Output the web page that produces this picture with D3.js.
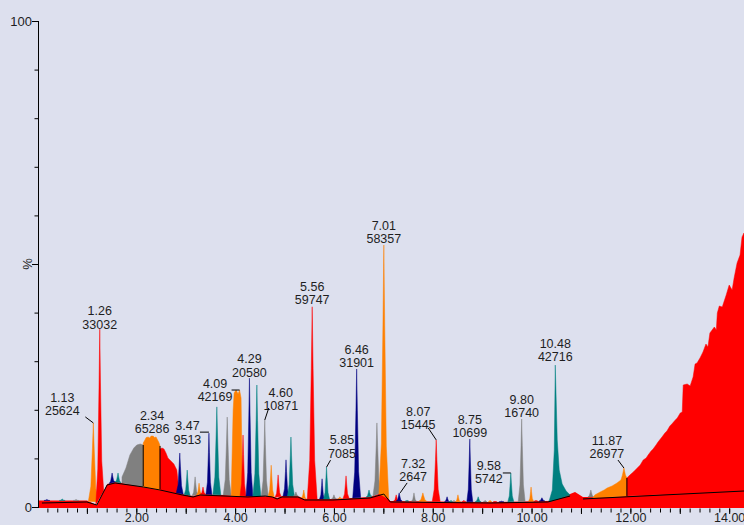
<!DOCTYPE html>
<html><head><meta charset="utf-8">
<script src="https://cdn.jsdelivr.net/npm/d3@7/dist/d3.min.js"></script>
<style>
html,body{margin:0;padding:0;background:#dde0ee;}
svg{display:block;}
text{font-family:"Liberation Sans",Arial,sans-serif;fill:#1e1e1e;}
</style>
</head><body>
<svg id="chart" width="744" height="525"></svg>
<script>
// ---------------- DATA (minutes, % of full scale) ----------------
const xTickLabels = ["2.00","4.00","6.00","8.00","10.00","12.00","14.00"];
const xTickValues = [2,4,6,8,10,12,14];
const yLabelValues = [0, 100];

// unintegrated signal (red fill top)
const backgroundTimes  = [0.03,1.00,1.20,1.41,1.57,2.14,2.48,2.93,3.15,3.29,4.26,4.75,4.85,4.95,5.27,5.41,5.98,6.73,7.01,7.14,9.16,10.33,10.57,10.78,10.88,11.04,11.39,11.91,14.30];
const backgroundLevels = [1.34,1.34,0.41,4.73,5.14,4.32,3.70,2.67,2.26,2.67,2.26,2.26,1.85,2.26,2.26,1.65,1.65,2.06,3.09,1.23,1.03,1.23,1.85,2.67,3.09,2.06,2.06,2.26,3.50];

// integration baseline (black line), NaN = gap
const baselineTimes  = [0.09,1.00,1.20,1.41,1.57,2.14,2.48,2.93,3.15,3.29,4.26,4.61,4.75,4.85,4.95,5.27,5.41,5.98,6.73,7.01,7.14,9.16,10.33,10.78,10.90,11.04,14.30];
const baselineLevels = [0.82,1.03,0.41,4.53,4.94,4.12,3.50,2.47,2.06,2.47,2.06,2.26,2.06,1.65,2.06,2.06,1.44,1.44,1.85,2.67,1.03,0.82,1.03,2.26,NaN,1.65,3.29];

// integrated peaks, in elution order
const peakTimes = [0.19,0.50,0.78,1.13,1.26,1.51,1.63,2.08,2.34,2.52,2.88,3.03,3.19,3.27,3.35,3.47,3.63,3.84,4.09,4.16,4.29,4.44,4.60,4.73,4.87,5.03,5.13,5.23,5.39,5.56,5.76,5.85,6.00,6.12,6.245,6.46,6.71,6.87,7.01,7.26,7.32,7.48,7.62,7.80,8.07,8.29,8.37,8.43,8.51,8.63,8.75,8.92,9.06,9.16,9.26,9.39,9.58,9.80,9.99,10.09,10.21,10.48,11.20,11.87,14.30];
const peakHeights = [1.54,1.65,1.54,17.3,36.6,7.0,7.0,12.96,14.6,12.14,11.1,7.6,6.2,4.9,4.1,15.2,20.6,18.5,24.07,14.8,26.5,25.1,17.9,8.6,6.6,9.7,14.4,3.1,3.5,41.2,5.8,8.2,2.5,2.1,6.4,28.4,3.5,17.3,53.9,2.5,2.9,1.4,2.9,2.9,13.8,2.1,1.4,1.4,2.5,1.4,14.0,2.1,1.4,1.4,1.2,1.2,7.0,18.1,4.1,1.4,1.9,29.2,3.5,8.02,56.4];
const peakHalfWidths = [0.06,0.06,0.06,0.10,0.08,0.06,0.06,null,null,null,0.07,0.06,0.06,0.05,0.05,0.06,0.08,0.08,null,0.06,0.07,0.08,0.07,0.06,0.06,0.06,0.07,0.05,0.05,0.10,0.05,0.06,0.05,0.04,0.06,0.08,0.06,0.08,0.10,0.05,0.06,0.04,0.05,0.08,0.08,0.05,0.04,0.04,0.05,0.04,0.06,0.06,0.04,0.04,0.04,0.05,0.06,0.07,0.05,0.04,0.06,null,0.06,null,null];

// traced outlines of broad peaks [min, %]
const grayHump = [[1.71,4.94],[1.71,6.17],[1.79,8.02],[1.87,10.70],[1.95,12.14],[2.01,12.76],[2.08,12.96],[2.14,12.76],[2.14,4.12]];
const orange234 = [[2.14,4.12],[2.14,13.17],[2.18,13.9],[2.20,14.3],[2.24,14.4],[2.27,14.2],[2.30,14.6],[2.34,14.6],[2.37,14.3],[2.40,14.4],[2.42,14.0],[2.46,13.2],[2.48,12.55],[2.48,3.5]];
const redShoulder = [[2.48,3.5],[2.48,11.93],[2.52,12.14],[2.56,11.93],[2.60,11.11],[2.64,10.08],[2.70,9.47],[2.76,8.85],[2.82,7.61],[2.87,2.67]];
const orange409 = [[3.92,2.26],[3.96,19.96],[3.98,23.46],[4.02,24.07],[4.06,23.25],[4.09,24.07],[4.12,22.43],[4.14,9.67],[4.16,2.26]];
const teal1048 = [[10.35,1.03],[10.42,3.50],[10.46,11.73],[10.48,29.2],[10.52,13.79],[10.56,7.61],[10.62,4.73],[10.70,3.29],[10.78,2.47]];
const orange1187 = [[11.24,1.85],[11.28,2.47],[11.39,3.09],[11.47,3.50],[11.53,3.91],[11.63,4.32],[11.73,4.94],[11.81,5.56],[11.84,6.58],[11.87,8.02],[11.90,6.58],[11.93,5.97],[11.93,2.26]];
const redTail = [[11.93,2.26],[11.93,5.97],[11.99,6.58],[12.06,7.20],[12.14,8.02],[12.20,8.64],[12.26,9.67],[12.32,10.08],[12.36,10.70],[12.42,11.52],[12.46,11.93],[12.52,12.76],[12.56,13.37],[12.64,14.40],[12.70,15.23],[12.74,15.64],[12.80,16.67],[12.84,17.08],[12.91,17.90],[12.95,18.31],[13.01,19.34],[13.05,19.55],[13.07,25.10],[13.15,25.31],[13.21,24.90],[13.27,26.75],[13.31,29.42],[13.35,29.63],[13.41,30.66],[13.47,31.89],[13.53,33.54],[13.57,32.92],[13.61,35.80],[13.70,37.04],[13.74,36.42],[13.76,39.92],[13.80,41.36],[13.86,41.15],[13.94,43.62],[14.00,45.68],[14.06,44.65],[14.10,47.12],[14.16,50.21],[14.22,51.85],[14.26,55.56],[14.30,56.38],[14.30,3.29]];

// peak-boundary drop lines [min, top %]
const dropLineTimes = [2.14, 2.48, 11.93];
const dropLineTops  = [12.76, 12.55, 5.97];

// labelled peaks: retention time and area
const labelTimes = ["1.13","1.26","2.34","3.47","4.09","4.29","4.60","5.56","5.85","6.46","7.01","7.32","8.07","8.75","9.58","9.80","10.48","11.87"];
const labelAreas = ["25624","33032","65286","9513","42169","20580","10871","59747","7085","31901","58357","2647","15445","10699","5742","16740","42716","26977"];

// ---------------- LAYOUT / STYLE ----------------
const palette = ["#000080","#008080","#808080","#ff8000","#ff0000"];
const customShapes = {7:grayHump, 8:orange234, 9:redShoulder, 18:orange409, 61:teal1048, 63:orange1187, 64:redTail};
const peakProfile = [[-1,0],[-0.5,0.2],[-0.18,0.68],[0,1],[0.18,0.68],[0.5,0.2],[1,0]];
// label offsets (px) of the lower text line centre from the apex, plus optional leader [x1,y1,x2,y2]
const labelLayout = {
  "1.13":{dx:-31,dy:-12,lead:[-8,-6,0,0]},
  "1.26":{dx:0,dy:-5},
  "2.34":{dx:-1,dy:-7},
  "3.47":{dx:-21.5,dy:6,lead:[-9,-1,0,-1]},
  "4.09":{dx:-24.5,dy:7,lead:[-8,0,0,0]},
  "4.29":{dx:0,dy:-6},
  "4.60":{dx:16,dy:-14,lead:[4,-12,0,0]},
  "5.56":{dx:0,dy:-7},
  "5.85":{dx:15.5,dy:-14,lead:[4,-7,0,0]},
  "6.46":{dx:0,dy:-6},
  "7.01":{dx:0,dy:-6},
  "7.32":{dx:14,dy:-16,lead:[8,-10,1,0]},
  "8.07":{dx:-18,dy:-15,lead:[-8,-12,0,0]},
  "8.75":{dx:0,dy:-6},
  "9.58":{dx:-22,dy:6,lead:[-8,0,0,0]},
  "9.80":{dx:0,dy:-6},
  "10.48":{dx:0,dy:-8},
  "11.87":{dx:-17,dy:-14,lead:[-6,-8,0,0]}
};

// ---------------- DRAW ----------------
const svg = d3.select("#chart");
const x = d3.scaleLinear().domain([0, 14.3]).range([37.5, 744]);
const y = d3.scaleLinear().domain([0, 100]).range([507, 21]);
const bgAt = d3.scaleLinear().domain(backgroundTimes).range(backgroundLevels).clamp(true);

const plot = svg.append("g");
plot.append("clipPath").attr("id","clip").append("rect").attr("x",39).attr("y",0).attr("width",705).attr("height",509);
const g = plot.append("g").attr("clip-path","url(#clip)");

// background red area
const bgData = backgroundTimes.map((t,i)=>[t, backgroundLevels[i]]);
g.append("path")
  .attr("d", d3.area().x(d=>x(d[0])).y0(y(0)+1).y1(d=>y(d[1]))(bgData))
  .attr("fill","#ff0000");

// peaks
const lineGen = d3.line().x(d=>x(d[0])).y(d=>y(d[1]));
peakTimes.forEach((rt,i)=>{
  let pts;
  if (customShapes[i]) {
    pts = customShapes[i];
  } else {
    const hw = peakHalfWidths[i], H = peakHeights[i], b0 = bgAt(rt);
    pts = peakProfile.map(([f,h])=>{
      const t = rt + f*hw, b = bgAt(t);
      return [t, b + h*(H - b0)];
    });
  }
  const col = palette[i % palette.length];
  g.append("path").attr("d", lineGen(pts) + "Z")
    .attr("fill", col).attr("stroke", col).attr("stroke-width", 0.5).attr("stroke-linejoin","round");
});

// integration baseline
const blData = baselineTimes.map((t,i)=>[t, baselineLevels[i]]);
g.append("path")
  .attr("d", d3.line().defined(d=>!isNaN(d[1])).x(d=>x(d[0])).y(d=>y(d[1]))(blData))
  .attr("fill","none").attr("stroke","#000").attr("stroke-width",1);

// drop lines
dropLineTimes.forEach((t,i)=>{
  g.append("line")
    .attr("x1", x(t)).attr("x2", x(t))
    .attr("y1", y(bgAt(t))).attr("y2", y(dropLineTops[i]))
    .attr("stroke","#000").attr("stroke-width",1);
});

// y axis
const yAxisMinor = d3.axisLeft(y).tickValues(d3.range(0,101,10)).tickSize(4).tickFormat("");
const ya = svg.append("g").attr("transform","translate(38.5,0)").call(yAxisMinor);
ya.select(".domain").attr("d", `M0,${y(100)}V${y(0)+1}`).attr("stroke","#000");
ya.selectAll(".tick line").attr("stroke","#000");
const yAxisMajor = d3.axisLeft(y).tickValues([0,50,100]).tickSize(6.5).tickPadding(0).tickFormat(d=> yLabelValues.includes(d) ? String(d) : "");
const ya2 = svg.append("g").attr("transform","translate(38.5,0)").call(yAxisMajor);
ya2.select(".domain").remove();
ya2.selectAll(".tick line").attr("stroke","#000");
ya2.selectAll("text").style("font-size","13px").attr("fill","#1e1e1e").attr("dy","0.36em");
svg.append("text").attr("transform",`translate(31.5,${y(50)}) rotate(-90)`)
  .attr("text-anchor","middle").style("font-size","13px").text("%");

// x axis
const xa1 = svg.append("g").attr("transform","translate(0,508.5)")
  .call(d3.axisBottom(x).tickValues(d3.range(1,71).map(k=>k*0.2).filter(v=>v<14.3)).tickSize(4).tickFormat(""));
xa1.select(".domain").remove();
xa1.selectAll(".tick line").attr("stroke","#000");
const xa2 = svg.append("g").attr("transform","translate(0,508.5)")
  .call(d3.axisBottom(x).tickValues(d3.range(1,15)).tickSize(5.5).tickPadding(0)
    .tickFormat(d=>{const k = xTickValues.indexOf(d); return k>=0 ? xTickLabels[k] : "";}));
xa2.select(".domain").remove();
xa2.selectAll(".tick line").attr("stroke","#000");
xa2.selectAll("text").style("font-size","12.5px").attr("fill","#1e1e1e").attr("dy","0.64em");

// peak labels
const labels = svg.append("g");
labelTimes.forEach((lt,i)=>{
  const idx = peakTimes.findIndex(t=>Math.abs(t-(+lt))<0.001);
  const ax = x(peakTimes[idx]), ay = y(peakHeights[idx]);
  const L = labelLayout[lt];
  const cx = ax + L.dx, cy = ay + L.dy;
  labels.append("text").attr("x",cx).attr("y",cy - 13.5 + 4.4).attr("text-anchor","middle").style("font-size","12.5px").text(lt);
  labels.append("text").attr("x",cx).attr("y",cy + 4.4).attr("text-anchor","middle").style("font-size","12.5px").text(labelAreas[i]);
  if (L.lead) {
    labels.append("line")
      .attr("x1",ax+L.lead[0]).attr("y1",ay+L.lead[1]).attr("x2",ax+L.lead[2]).attr("y2",ay+L.lead[3])
      .attr("stroke","#000").attr("stroke-width",1);
  }
});
</script>
</body></html>
